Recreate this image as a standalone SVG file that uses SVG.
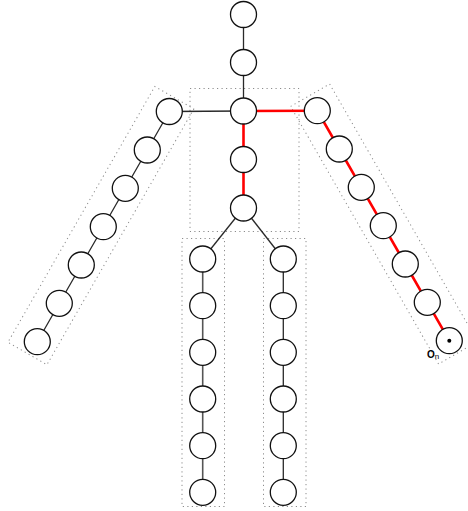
<svg xmlns="http://www.w3.org/2000/svg" width="468" height="511" viewBox="0 0 468 511">
<style>
.box{fill:none;stroke:#8c8c8c;stroke-width:1;stroke-dasharray:1.2,3.3}
.n{fill:#fff;stroke:#111;stroke-width:1.3}
.e{stroke:#2a2a2a;stroke-width:1.3;fill:none}
.r{stroke:#ff0000;stroke-width:2.6;fill:none}
.lbl{font-family:"Liberation Sans",Arial,sans-serif;fill:#000}
</style>
<defs><circle id="c" r="13" class="n"/></defs>
<g id="groups">
<rect class="box" x="190" y="88.5" width="109" height="143"/>
<rect class="box" x="182" y="238.5" width="42.5" height="268"/>
<rect class="box" x="263.5" y="238.5" width="42.5" height="268"/>
<rect class="box" transform="translate(169.3,111.5) rotate(119.87)" x="-14.5" y="-20" width="295" height="45"/>
<rect class="box" transform="translate(317.3,110.7) rotate(60.13)" x="-17" y="-24" width="297" height="45"/>
</g>
<g id="connectors">
<line class="e" x1="243.5" y1="14.5" x2="243.5" y2="62.5"/>
<line class="e" x1="243.5" y1="62.5" x2="243.5" y2="111"/>
<line class="e" x1="243.5" y1="111" x2="169.3" y2="111.5"/>
<line class="r" x1="243.5" y1="111" x2="317.3" y2="110.7"/>
<line class="r" x1="243.5" y1="111" x2="243.5" y2="159.5"/>
<line class="r" x1="243.5" y1="159.5" x2="243.5" y2="208"/>
<line class="e" x1="243.5" y1="208" x2="202.7" y2="259"/>
<line class="e" x1="243.5" y1="208" x2="283.3" y2="259"/>
<polyline class="e" points="169.3,111.5 147.3,150 125.3,188.3 103.3,226.7 81.3,265 59.3,303.3 37.3,341.7"/>
<polyline class="r" points="317.3,110.7 339.3,149 361.3,187.3 383.3,225.7 405.3,264 427.3,302.3 449.3,340.7"/>
<line class="e" x1="202.7" y1="259" x2="202.7" y2="492.3" style="stroke:#555;stroke-width:1.6"/>
<line class="e" x1="283.3" y1="259" x2="283.3" y2="492.3"/>
</g>
<g id="nodes">
<g id="head-top"><use href="#c" x="243.5" y="14.5"/></g>
<g id="neck"><use href="#c" x="243.5" y="62.5"/></g>
<g id="center"><use href="#c" x="243.5" y="111"/></g>
<g id="spine"><use href="#c" x="243.5" y="159.5"/></g>
<g id="hip"><use href="#c" x="243.5" y="208"/></g>
<g id="l-arm-1"><use href="#c" x="169.3" y="111.5"/></g>
<g id="l-arm-2"><use href="#c" x="147.3" y="150"/></g>
<g id="l-arm-3"><use href="#c" x="125.3" y="188.3"/></g>
<g id="l-arm-4"><use href="#c" x="103.3" y="226.7"/></g>
<g id="l-arm-5"><use href="#c" x="81.3" y="265"/></g>
<g id="l-arm-6"><use href="#c" x="59.3" y="303.3"/></g>
<g id="l-arm-7"><use href="#c" x="37.3" y="341.7"/></g>
<g id="r-arm-1"><use href="#c" x="317.3" y="110.7"/></g>
<g id="r-arm-2"><use href="#c" x="339.3" y="149"/></g>
<g id="r-arm-3"><use href="#c" x="361.3" y="187.3"/></g>
<g id="r-arm-4"><use href="#c" x="383.3" y="225.7"/></g>
<g id="r-arm-5"><use href="#c" x="405.3" y="264"/></g>
<g id="r-arm-6"><use href="#c" x="427.3" y="302.3"/></g>
<g id="r-arm-7"><use href="#c" x="449.3" y="340.7"/><circle cx="449.3" cy="340.7" r="2" fill="#000"/></g>
<g id="l-leg-1"><use href="#c" x="202.7" y="259"/></g>
<g id="l-leg-2"><use href="#c" x="202.7" y="305.7"/></g>
<g id="l-leg-3"><use href="#c" x="202.7" y="352.3"/></g>
<g id="l-leg-4"><use href="#c" x="202.7" y="399"/></g>
<g id="l-leg-5"><use href="#c" x="202.7" y="445.7"/></g>
<g id="l-leg-6"><use href="#c" x="202.7" y="492.3"/></g>
<g id="r-leg-1"><use href="#c" x="283.3" y="259"/></g>
<g id="r-leg-2"><use href="#c" x="283.3" y="305.7"/></g>
<g id="r-leg-3"><use href="#c" x="283.3" y="352.3"/></g>
<g id="r-leg-4"><use href="#c" x="283.3" y="399"/></g>
<g id="r-leg-5"><use href="#c" x="283.3" y="445.7"/></g>
<g id="r-leg-6"><use href="#c" x="283.3" y="492.3"/></g>
</g>
<text class="lbl" x="427" y="358" font-size="10" font-weight="bold">O<tspan font-size="8" font-weight="normal" dy="1">n</tspan></text>
</svg>
